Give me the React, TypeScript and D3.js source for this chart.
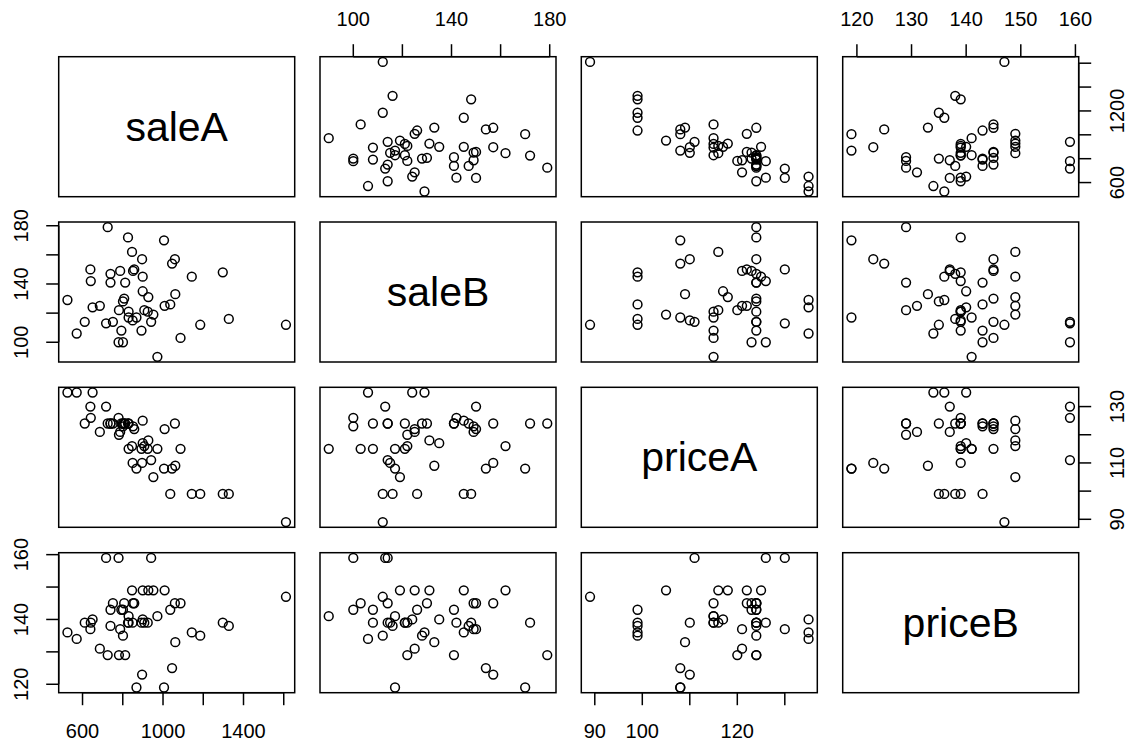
import React from "react";
import * as d3 from "d3";

// ---- data (one entry per observation) ----
const saleA = [1611, 1327, 1297, 1185, 1143, 1087, 1061, 1059, 1045, 1036, 1008, 1005, 972, 952, 941, 927, 924, 907, 899, 899, 896, 893, 868, 857, 851, 849, 846, 829, 829, 826, 812, 807, 801, 801, 793, 787, 781, 779, 751, 739, 739, 725, 717, 686, 650, 641, 639, 611, 571, 525];
const saleB = [112, 116, 148, 112, 145, 103, 133, 157, 154, 126, 125, 170, 90, 119, 114, 131, 121, 122, 135, 145, 157, 108, 117, 150, 149, 115, 162, 117, 121, 172, 141, 130, 128, 100, 108, 149, 122, 100, 114, 141, 147, 179, 113, 125, 124, 142, 150, 114, 106, 129];
const priceA = [89, 99, 99, 99, 99, 115, 109, 124, 108, 99, 122, 108, 115, 105, 111, 118, 115, 116, 117, 125, 110, 115, 108, 122, 123, 110, 116, 115, 124, 124, 124, 124, 124, 123, 124, 121, 120, 126, 124, 124, 124, 124, 130, 121, 135, 126, 130, 124, 135, 135];
const priceB = [147, 138, 139, 135, 136, 145, 133, 145, 125, 143, 149, 119, 141, 149, 159, 149, 139, 139, 140, 149, 123, 139, 119, 145, 145, 139, 149, 141, 139, 139, 129, 145, 135, 143, 143, 137, 129, 159, 145, 143, 138, 129, 159, 131, 140, 139, 137, 139, 134, 136];

const varNames = ["saleA", "saleB", "priceA", "priceB"];

// ---- axis ticks and the labels R kept ----
const saleATicks = [600, 800, 1000, 1200, 1400, 1600];
const saleBTicks = [100, 120, 140, 160, 180];
const priceATicks = [90, 100, 110, 120, 130];
const priceBTicks = [120, 130, 140, 150, 160];

const saleALabelsBottom = [600, 1000, 1400];
const saleALabelsRight = [600, 1200];
const saleBLabelsTop = [100, 140, 180];
const saleBLabelsLeft = [100, 140, 180];
const priceALabelsBottom = [90, 100, 120];
const priceALabelsRight = [90, 110, 130];
const priceBLabelsTop = [120, 130, 140, 150, 160];
const priceBLabelsLeft = [120, 140, 160];

// ---- layout ----
const WIDTH = 1129;
const HEIGHT = 742;
const colX = [58.7, 320, 581.3, 842.7];
const rowY = [56.7, 222, 387.3, 552.7];
const PW = 236;
const PH = 140;
const TICK = 12.5;
const LABEL_OFF = 38;
const FONT = "'Liberation Sans', Arial, Helvetica, sans-serif";

const series = [saleA, saleB, priceA, priceB];
const ticksOf = [saleATicks, saleBTicks, priceATicks, priceBTicks];

function extendedDomain(v: number[]): [number, number] {
  const [lo, hi] = d3.extent(v) as [number, number];
  const pad = (hi - lo) * 0.04;
  return [lo - pad, hi + pad];
}

export default function App() {
  const domains = series.map(extendedDomain);
  const xScale = (j: number) =>
    d3.scaleLinear().domain(domains[j]).range([colX[j], colX[j] + PW]);
  const yScale = (i: number) =>
    d3.scaleLinear().domain(domains[i]).range([rowY[i] + PH, rowY[i]]);

  const panels: React.ReactNode[] = [];
  for (let i = 0; i < 4; i++) {
    for (let j = 0; j < 4; j++) {
      const key = `p${i}${j}`;
      const box = (
        <rect
          key={key + "box"}
          x={colX[j]}
          y={rowY[i]}
          width={PW}
          height={PH}
          fill="none"
          stroke="#000"
          strokeWidth={1.5}
        />
      );
      if (i === j) {
        panels.push(
          <g key={key}>
            {box}
            <text
              x={colX[j] + PW / 2}
              y={rowY[i] + PH / 2}
              textAnchor="middle"
              dominantBaseline="central"
              fontSize={41}
              fontFamily={FONT}
              fill="#000"
            >
              {varNames[i]}
            </text>
          </g>
        );
      } else {
        const xs = xScale(j);
        const ys = yScale(i);
        const xv = series[j];
        const yv = series[i];
        panels.push(
          <g key={key}>
            {box}
            {xv.map((_, k) => (
              <circle
                key={k}
                cx={xs(xv[k])}
                cy={ys(yv[k])}
                r={4.4}
                fill="none"
                stroke="#000"
                strokeWidth={1.5}
              />
            ))}
          </g>
        );
      }
    }
  }

  // horizontal axes
  const hAxis = (j: number, side: "top" | "bottom", labels: number[]) => {
    const s = xScale(j);
    const t = ticksOf[j];
    const y0 = side === "top" ? rowY[0] : rowY[3] + PH;
    const dir = side === "top" ? -1 : 1;
    return (
      <g key={`h${j}${side}`}>
        <line x1={s(t[0])} x2={s(t[t.length - 1])} y1={y0} y2={y0} stroke="#000" strokeWidth={1.5} />
        {t.map((v) => (
          <line key={v} x1={s(v)} x2={s(v)} y1={y0} y2={y0 + dir * TICK} stroke="#000" strokeWidth={1.5} />
        ))}
        {labels.map((v) => (
          <text
            key={"l" + v}
            x={s(v)}
            y={y0 + dir * LABEL_OFF}
            textAnchor="middle"
            dominantBaseline="central"
            fontSize={20}
            fontFamily={FONT}
            fill="#000"
          >
            {v}
          </text>
        ))}
      </g>
    );
  };

  // vertical axes
  const vAxis = (i: number, side: "left" | "right", labels: number[]) => {
    const s = yScale(i);
    const t = ticksOf[i];
    const x0 = side === "left" ? colX[0] : colX[3] + PW;
    const dir = side === "left" ? -1 : 1;
    return (
      <g key={`v${i}${side}`}>
        <line y1={s(t[0])} y2={s(t[t.length - 1])} x1={x0} x2={x0} stroke="#000" strokeWidth={1.5} />
        {t.map((v) => (
          <line key={v} y1={s(v)} y2={s(v)} x1={x0} x2={x0 + dir * TICK} stroke="#000" strokeWidth={1.5} />
        ))}
        {labels.map((v) => {
          const lx = x0 + dir * LABEL_OFF;
          const ly = s(v);
          return (
            <text
              key={"l" + v}
              x={lx}
              y={ly}
              transform={`rotate(-90 ${lx} ${ly})`}
              textAnchor="middle"
              dominantBaseline="central"
              fontSize={20}
              fontFamily={FONT}
              fill="#000"
            >
              {v}
            </text>
          );
        })}
      </g>
    );
  };

  return (
    <div style={{ position: "absolute", left: 0, top: 0 }}>
      <svg width={WIDTH} height={HEIGHT} style={{ display: "block", background: "#fff" }}>
        <rect x={0} y={0} width={WIDTH} height={HEIGHT} fill="#fff" />
        {panels}
        {hAxis(1, "top", saleBLabelsTop)}
        {hAxis(3, "top", priceBLabelsTop)}
        {hAxis(0, "bottom", saleALabelsBottom)}
        {hAxis(2, "bottom", priceALabelsBottom)}
        {vAxis(1, "left", saleBLabelsLeft)}
        {vAxis(3, "left", priceBLabelsLeft)}
        {vAxis(0, "right", saleALabelsRight)}
        {vAxis(2, "right", priceALabelsRight)}
      </svg>
    </div>
  );
}
